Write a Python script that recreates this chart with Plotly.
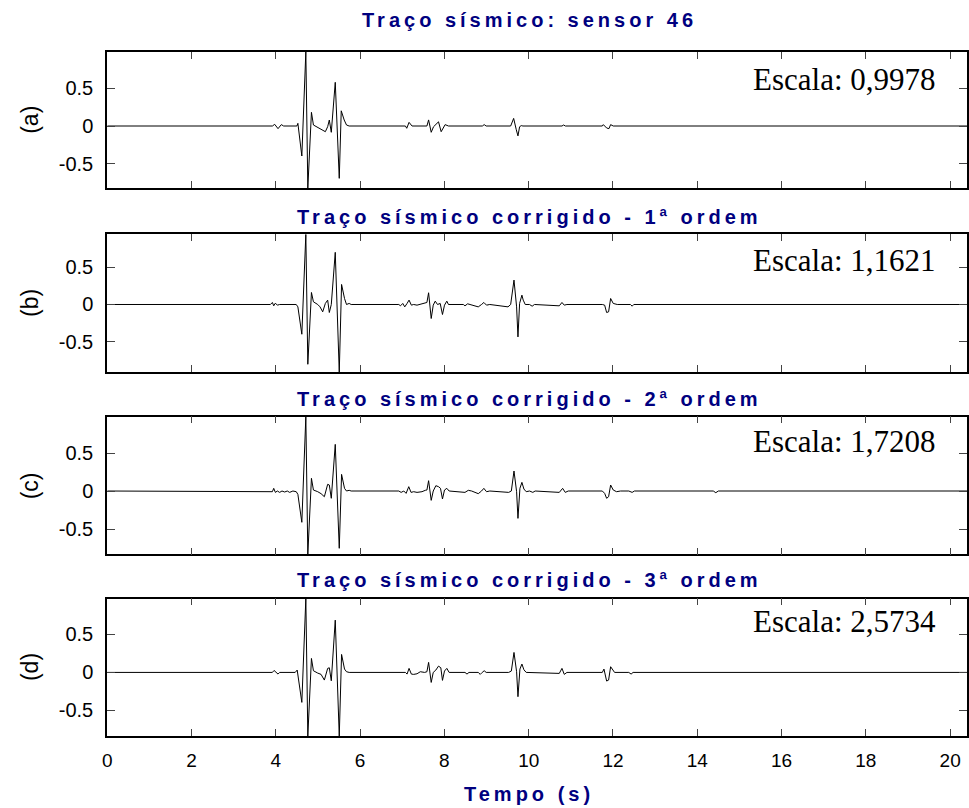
import plotly.graph_objects as go

# ---------------- data (time in s, normalised amplitude) ----------------
t_a = [0, 3.918, 3.973, 4.052, 4.130, 4.185, 4.500, 4.523, 4.617, 4.712, 4.759, 4.845, 4.892,
       4.994, 5.096, 5.175, 5.230, 5.269, 5.316, 5.410, 5.505, 5.552, 5.622, 5.677, 5.740,
       7.075, 7.106, 7.161, 7.232, 7.585, 7.625, 7.687, 7.742, 7.860, 7.923, 8.017, 8.096,
       8.900, 8.944, 8.990, 9.572, 9.643, 9.706, 9.745, 9.784, 9.823, 9.863,
       10.790, 10.828, 10.870, 11.747, 11.771, 11.849, 11.904, 11.944, 12.006, 20.4]
amp_a = [0, 0, 0.022, -0.035, 0.018, 0, 0, 0.035, -0.395, 0.974, -0.816, 0.18, 0.013,
         -0.018, -0.044, -0.075, -0.009, 0.079, -0.083, 0.575, -0.689, 0.2, 0.079, 0.013, 0,
         0, -0.03, 0.048, 0, 0, 0.08, -0.083, -0.01, 0.055, -0.075, 0.018, 0,
         0, 0.018, 0, 0, 0.1, -0.05, -0.13, -0.01, 0.005, 0,
         0, 0.013, 0, 0, 0.018, -0.026, -0.035, 0.018, 0, 0]

t_b = [0, 3.871, 3.918, 3.950, 3.989, 4.036, 4.091, 4.484, 4.523, 4.617, 4.712, 4.759, 4.845,
       4.892, 4.994, 5.049, 5.112, 5.175, 5.230, 5.269, 5.316, 5.410, 5.505, 5.560, 5.630,
       5.677, 5.740, 5.787, 6.918, 6.957, 7.012, 7.059, 7.114, 7.161, 7.216, 7.271, 7.350,
       7.428, 7.531, 7.585, 7.625, 7.687, 7.735, 7.782, 7.837, 7.900, 7.954, 8.002, 8.057,
       8.096, 8.449, 8.488, 8.551, 8.614, 8.803, 8.881, 8.936, 8.999, 9.077, 9.509, 9.572,
       9.651, 9.713, 9.745, 9.784, 9.839, 9.870, 9.918, 10.020, 10.082, 10.137, 10.726,
       10.789, 10.844, 10.907, 11.747, 11.802, 11.849, 11.896, 11.944, 12.006, 12.101,
       12.415, 12.454, 12.493, 20.4]
amp_b = [0, 0, 0.027, -0.018, 0.018, -0.009, 0, 0, -0.032, -0.401, 0.946, -0.806, 0.162,
         0.036, 0, -0.032, -0.099, 0.014, 0.059, -0.108, 0, 0.703, -0.91, 0.27, 0.081,
         0, 0.014, 0, 0, -0.018, 0.014, -0.032, 0.014, 0.059, -0.009, 0, -0.009,
         0, 0.018, 0.027, 0.158, -0.189, -0.009, 0.045, 0, 0.014, -0.135, -0.009, 0.045,
         0, 0, -0.018, 0.009, 0, -0.032, 0, 0.027, -0.009, 0, -0.032, 0,
         0.329, -0.032, -0.437, 0.014, 0.126, 0.059, 0, 0, -0.023, 0, -0.018,
         0.027, -0.009, 0, 0, -0.009, -0.108, -0.099, 0.081, 0.014, 0,
         0, -0.023, 0, 0]

t_c = [0, 3.871, 3.918, 3.950, 3.989, 4.036, 4.091, 4.146, 4.209, 4.272, 4.327, 4.405, 4.484,
       4.523, 4.617, 4.712, 4.759, 4.845, 4.892, 4.994, 5.073, 5.151, 5.230, 5.269, 5.316,
       5.410, 5.505, 5.560, 5.630, 5.677, 5.740, 5.787, 6.918, 6.973, 7.036, 7.091, 7.154,
       7.208, 7.271, 7.350, 7.468, 7.546, 7.585, 7.625, 7.687, 7.735, 7.797, 7.860, 7.907,
       7.954, 8.002, 8.057, 8.112, 8.488, 8.567, 8.646, 8.803, 8.881, 8.936, 8.999, 9.077,
       9.525, 9.588, 9.651, 9.713, 9.745, 9.792, 9.839, 9.886, 9.941, 10.020, 10.098,
       10.153, 10.726, 10.805, 10.868, 10.938, 11.747, 11.802, 11.849, 11.896, 11.944,
       12.006, 12.085, 12.179, 12.375, 12.454, 12.509, 14.38, 14.44, 14.50, 20.4]
amp_c = [0, 0, -0.009, 0.035, -0.018, 0, -0.018, 0, -0.013, 0, -0.018, 0, -0.009,
         -0.044, -0.412, 0.978, -0.833, 0.167, 0.013, -0.009, -0.035, -0.075, 0.088, 0.079, -0.096,
         0.614, -0.754, 0.219, 0.035, 0, 0.009, 0, 0, -0.018, 0, -0.031, 0.057,
         -0.018, -0.009, -0.018, -0.009, 0.009, 0.013, 0.136, -0.123, 0, 0.07, 0.057, 0.035,
         -0.105, 0.013, 0.035, 0, -0.018, 0.009, 0, -0.035, 0, 0.035, -0.009, 0,
         -0.018, 0, 0.263, -0.009, -0.36, 0.035, 0.114, 0.026, -0.009, 0, -0.018,
         0, -0.018, 0.035, -0.018, 0, 0, -0.031, -0.096, -0.075, 0.079,
         0.013, -0.009, 0, 0, -0.018, 0, 0, -0.022, 0, 0]

t_d = [0, 3.918, 3.958, 4.013, 4.052, 4.091, 4.460, 4.507, 4.617, 4.712, 4.759, 4.845, 4.892,
       4.994, 5.073, 5.151, 5.230, 5.269, 5.316, 5.410, 5.505, 5.560, 5.630, 5.677, 5.740,
       7.075, 7.114, 7.161, 7.216, 7.271, 7.350, 7.428, 7.531, 7.585, 7.625, 7.687, 7.735,
       7.797, 7.860, 7.915, 7.954, 8.002, 8.057, 8.112, 8.488, 8.536, 8.583, 8.803, 8.850,
       8.897, 8.944, 8.991, 9.525, 9.588, 9.651, 9.713, 9.745, 9.792, 9.839, 9.886, 9.941,
       10.726, 10.789, 10.844, 10.907, 11.747, 11.786, 11.849, 11.896, 11.944, 11.991,
       12.038, 12.375, 12.430, 12.477, 20.4]
amp_d = [0, 0, 0.026, 0, -0.022, 0, 0, 0.031, -0.395, 0.974, -0.838, 0.184, 0.022,
         -0.009, -0.026, -0.101, 0.053, 0.061, -0.11, 0.689, -0.838, 0.237, 0.044, 0.009, 0,
         0, -0.022, 0.053, -0.022, -0.026, -0.018, 0.009, 0, 0.009, 0.132, -0.132, 0,
         0.031, 0.083, 0.061, -0.105, 0.018, 0.053, 0, 0, -0.022, 0, 0, -0.026,
         0, 0.022, 0, 0, 0.018, 0.263, 0.009, -0.32, 0.044, 0.11, 0.035, 0,
         -0.013, 0.053, -0.026, 0, 0, 0.044, -0.114, -0.101, 0.075, 0.044,
         0, 0, -0.022, 0, 0]

y_ranges = [[-0.816, 0.974], [-0.91, 0.946], [-0.833, 0.978], [-0.838, 0.974]]
panel_labels = ["(a)", "(b)", "(c)", "(d)"]
titles = ["Traço sísmico: sensor 46",
          "Traço sísmico corrigido - 1ª ordem",
          "Traço sísmico corrigido - 2ª ordem",
          "Traço sísmico corrigido - 3ª ordem"]
scales = ["Escala: 0,9978", "Escala: 1,1621", "Escala: 1,7208", "Escala: 2,5734"]
x_ticks = [0, 2, 4, 6, 8, 10, 12, 14, 16, 18, 20]
y_ticks = [-0.5, 0, 0.5]
x_range = [0, 20.4]
x_label = "Tempo (s)"

# ---------------- layout geometry (pixels) ----------------
W, H = 969, 808
panel_px = [(52, 188), (234.3, 372), (416.7, 554.3), (598.5, 736)]
title_px = [20, 217, 399, 580]
scale_px = [80, 260, 441, 621]
x_left = 103

def py(p):
    return 1 - p / H

def spaced(s, px):
    return '<span style="letter-spacing:%spx">%s</span>' % (px, s)

traces = [(t_a, amp_a), (t_b, amp_b), (t_c, amp_c), (t_d, amp_d)]
fig = go.Figure()
NAVY = "#00007F"
annotations = []
for i, (tt, aa) in enumerate(traces):
    n = "" if i == 0 else str(i + 1)
    fig.add_trace(go.Scatter(x=tt, y=aa, mode="lines", line=dict(color="black", width=1),
                             xaxis="x" + n, yaxis="y" + n, showlegend=False, hoverinfo="skip"))
    top, bot = panel_px[i]
    fig.layout["xaxis" + n] = dict(
        domain=[x_left / W, 1], range=x_range, anchor="y" + n,
        tickvals=x_ticks, showticklabels=(i == 3), ticks="inside", ticklen=7,
        tickcolor="#444", tickwidth=1, showline=True, linecolor="black", linewidth=1.5,
        mirror="ticks", showgrid=False, zeroline=False,
        tickfont=dict(family="Liberation Sans, Arial", size=19, color="black"),
        ticklabelstandoff=6,
    )
    fig.layout["yaxis" + n] = dict(
        domain=[py(bot), py(top)], range=y_ranges[i], anchor="x" + n,
        tickvals=y_ticks, ticktext=["-0.5", "0", "0.5"], ticks="inside", ticklen=8,
        tickcolor="#444", tickwidth=1, showline=True, linecolor="black", linewidth=2,
        mirror="ticks", showgrid=False, zeroline=False,
        tickfont=dict(family="Liberation Sans, Arial", size=20, color="black"),
        ticklabelstandoff=8,
    )
    annotations.append(dict(text=spaced(titles[i], 4), x=528 / W, y=py(title_px[i]),
                            xref="paper", yref="paper",
                            xanchor="center", yanchor="middle", showarrow=False,
                            font=dict(family="Liberation Sans, Arial", size=20, color=NAVY,
                                      weight="bold")))
    annotations.append(dict(text=scales[i], x=940 / W, y=py(scale_px[i]), xref="paper", yref="paper",
                            xanchor="right", yanchor="middle", showarrow=False,
                            font=dict(family="Liberation Serif, Times New Roman", size=31,
                                      color="black")))
    annotations.append(dict(text=panel_labels[i], x=25 / W, y=py((top + bot) / 2),
                            xref="paper", yref="paper", xanchor="center", yanchor="middle",
                            textangle=-90, showarrow=False,
                            font=dict(family="Liberation Sans, Arial", size=23, color="black")))

annotations.append(dict(text=spaced(x_label, 4), x=528 / W, y=py(794), xref="paper", yref="paper",
                        xanchor="center", yanchor="middle", showarrow=False,
                        font=dict(family="Liberation Sans, Arial", size=20, color=NAVY,
                                  weight="bold")))

fig.update_layout(width=W, height=H, margin=dict(l=0, r=0, t=0, b=0),
                  paper_bgcolor="white", plot_bgcolor="white", annotations=annotations)

fig.write_html("out.html")
